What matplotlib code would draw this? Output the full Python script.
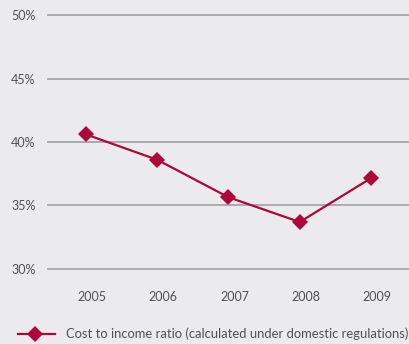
import matplotlib
matplotlib.use("Agg")
import matplotlib.pyplot as plt
from matplotlib.lines import Line2D
import matplotlib.transforms as mtransforms

years = ["2005", "2006", "2007", "2008", "2009"]
ratio = [40.6, 38.6, 35.65, 33.7, 37.15]
yticks = [30, 35, 40, 45, 50]
ytick_labels = ["30%", "35%", "40%", "45%", "50%"]
series_label = "Cost to income ratio (calculated under domestic regulations)"

BG = "#EBEBED"
RED = "#B0073A"
GRID = "#ABABAB"
TXT = "#505050"

plt.rcParams["font.family"] = ["Lato", "DejaVu Sans"]

W, H = 409, 344
fig = plt.figure(figsize=(W / 100, H / 100), dpi=100, facecolor=BG)

ax_top, ax_bot = 15, 269
ax = fig.add_axes([48 / W, 1 - ax_bot / H, 360 / W, (ax_bot - ax_top) / H])
ax.set_facecolor(BG)
ax.set_ylim(30, 50)
ax.set_xlim(-0.533, 4.52)
for s in ax.spines.values():
    s.set_visible(False)

for v in yticks:
    ax.axhline(v, color=GRID, lw=1.4, clip_on=False, zorder=1)

x = list(range(len(years)))
ax.plot(x, ratio, color=RED, lw=1.6, marker="D", markersize=8,
        markeredgewidth=0, zorder=3, clip_on=False)

ax.set_yticks(yticks)
ax.set_yticklabels(ytick_labels)
ax.set_xticks(x)
ax.set_xticklabels(years)
ax.tick_params(axis="both", length=0, colors=TXT, labelsize=9)
ax.tick_params(axis="y", pad=9)
ax.tick_params(axis="x", pad=16)
shift = mtransforms.ScaledTranslation(6 / 100, 0, fig.dpi_scale_trans)
for lbl in ax.get_xticklabels():
    lbl.set_transform(lbl.get_transform() + shift)

# legend row at the bottom
ly = 1 - 334 / H
fig.add_artist(Line2D([18 / W, 55 / W], [ly, ly], color=RED, lw=1.6,
                      transform=fig.transFigure))
fig.add_artist(Line2D([35 / W], [ly], color=RED, marker="D", markersize=8,
                      markeredgewidth=0, transform=fig.transFigure))
fig.text(66 / W, ly, series_label, color=TXT, fontsize=9.4, va="center", ha="left")

fig.savefig("out.png", dpi=100, facecolor=BG)
